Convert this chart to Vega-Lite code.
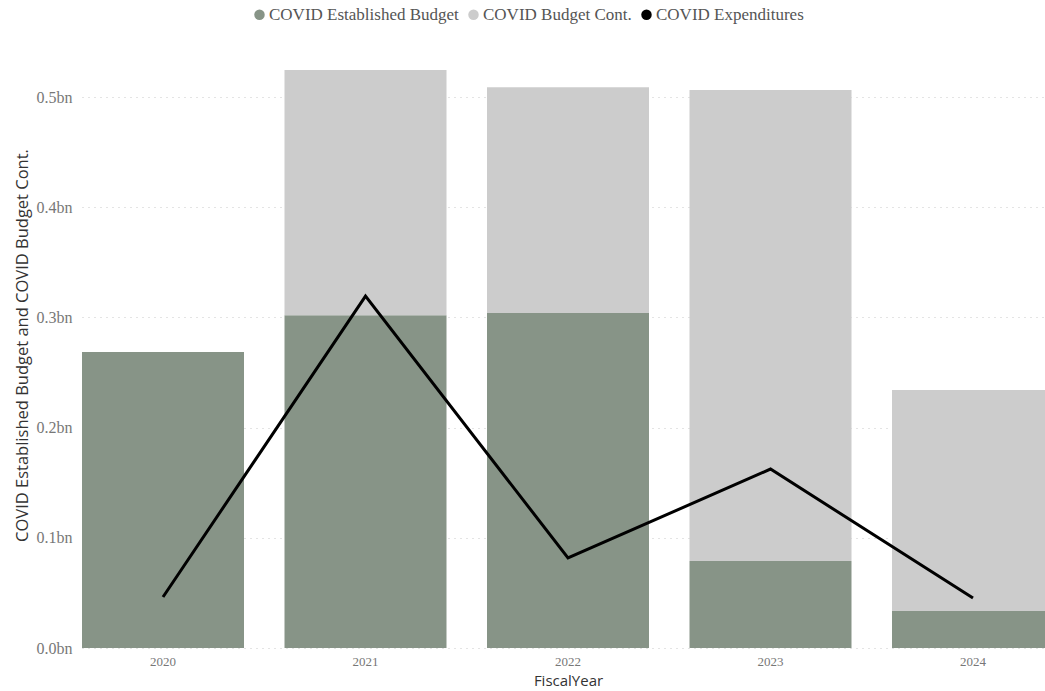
{
  "$schema": "https://vega.github.io/schema/vega-lite/v6.json",
  "width": 963,
  "height": 606,
  "autosize": "none",
  "padding": {"left": 82, "top": 42, "right": 0, "bottom": 43},
  "background": "white",
  "config": {
    "view": {"stroke": null},
    "axis": {"labelFont": "Liberation Serif", "labelColor": "#777777", "titleFont": "Open Sans", "titleColor": "#333333", "titleFontWeight": "normal"}
  },
  "datasets": {
    "bars": [
      {"FiscalYear": "2020", "series": "COVID Established Budget", "value": 0.2686, "ord": 1},
      {"FiscalYear": "2021", "series": "COVID Established Budget", "value": 0.302, "ord": 1},
      {"FiscalYear": "2021", "series": "COVID Budget Cont.", "value": 0.2225, "ord": 2},
      {"FiscalYear": "2022", "series": "COVID Established Budget", "value": 0.304, "ord": 1},
      {"FiscalYear": "2022", "series": "COVID Budget Cont.", "value": 0.205, "ord": 2},
      {"FiscalYear": "2023", "series": "COVID Established Budget", "value": 0.079, "ord": 1},
      {"FiscalYear": "2023", "series": "COVID Budget Cont.", "value": 0.4274, "ord": 2},
      {"FiscalYear": "2024", "series": "COVID Established Budget", "value": 0.0336, "ord": 1},
      {"FiscalYear": "2024", "series": "COVID Budget Cont.", "value": 0.2005, "ord": 2}
    ],
    "exp": [
      {"FiscalYear": "2020", "expenditures": 0.0463},
      {"FiscalYear": "2021", "expenditures": 0.3194},
      {"FiscalYear": "2022", "expenditures": 0.0817},
      {"FiscalYear": "2023", "expenditures": 0.1624},
      {"FiscalYear": "2024", "expenditures": 0.0454}
    ]
  },
  "encoding": {
    "x": {
      "field": "FiscalYear", "type": "ordinal", "title": "FiscalYear",
      "scale": {"range": [0, 972], "paddingInner": 0.2, "paddingOuter": 0},
      "axis": {"labelAngle": 0, "ticks": false, "domain": false, "labelFontSize": 13, "labelPadding": 7, "titleFontSize": 15, "titlePadding": 5}
    }
  },
  "layer": [
    {
      "data": {"name": "bars"},
      "mark": {"type": "bar", "clip": true},
      "encoding": {
        "y": {
          "field": "value", "type": "quantitative", "stack": "zero",
          "title": "COVID Established Budget and COVID Budget Cont.",
          "scale": {"domain": [0, 0.55], "nice": false},
          "axis": {"values": [0, 0.1, 0.2, 0.3, 0.4, 0.5], "labelExpr": "format(datum.value, '.1f') + 'bn'", "labelFontSize": 16, "labelPadding": 10, "ticks": false, "domain": false, "gridDash": [1, 5], "gridColor": "#c8c8c8", "titleFontSize": 16.5, "titlePadding": 6}
        },
        "color": {
          "field": "series", "type": "nominal",
          "scale": {"domain": ["COVID Established Budget", "COVID Budget Cont.", "COVID Expenditures"], "range": ["#879487", "#cccccc", "#000000"]},
          "legend": {"title": null, "orient": "none", "legendX": 169, "legendY": -36, "direction": "horizontal", "symbolType": "circle", "symbolSize": 110, "symbolStrokeWidth": 0, "labelFont": "Liberation Serif", "labelFontSize": 17, "labelColor": "#555555", "labelLimit": 0, "columnPadding": 6, "labelOffset": 1}
        },
        "order": {"field": "ord", "type": "quantitative"}
      }
    },
    {
      "data": {"name": "exp"},
      "mark": {"type": "line", "strokeWidth": 3, "color": "#000000"},
      "encoding": {
        "y": {"field": "expenditures", "type": "quantitative"},
        "color": {"datum": "COVID Expenditures"}
      }
    }
  ]
}
